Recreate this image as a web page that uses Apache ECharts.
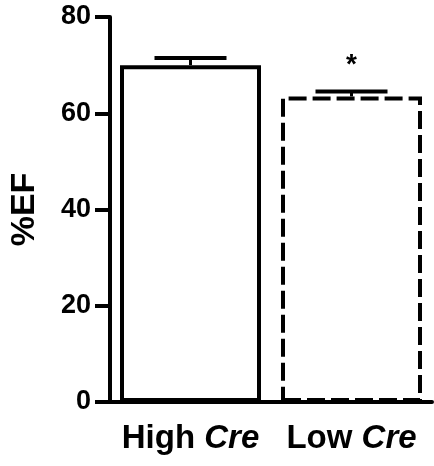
<!DOCTYPE html>
<html lang="en">
<head>
    <meta charset="UTF-8">
    <script src="https://cdn.jsdelivr.net/npm/echarts@6/dist/echarts.min.js"></script>
    <title>%EF</title>
    <style>
        html, body { margin: 0; padding: 0; background: #fff; }
        #chart { width: 434px; height: 466px; }
    </style>
</head>
<body>
<div id="chart"></div>
<script>
    // 数据
    let groups = ['High', 'Low'];
    let means = [70, 63.5];
    let errs = [1.5, 1.0];
    let marks = ['', '*'];
    let yTicks = [0, 20, 40, 60, 80];

    let font = '"Liberation Sans", Arial, Helvetica, sans-serif';

    let chart = echarts.init(document.getElementById('chart'));

    // 误差棒 + 显著性标记
    function renderErr(params, api) {
        let i = api.value(0);
        let top = api.coord([i, api.value(1) + api.value(2)]);
        let base = api.coord([i, api.value(1)]);
        let half = 36;
        let children = [
            { type: 'line', shape: { x1: top[0], y1: top[1], x2: base[0], y2: base[1] },
              style: { stroke: '#000', lineWidth: 3 } },
            { type: 'line', shape: { x1: top[0] - half, y1: top[1], x2: top[0] + half, y2: top[1] },
              style: { stroke: '#000', lineWidth: 4 } }
        ];
        if (marks[i]) {
            children.push({
                type: 'text',
                style: { text: marks[i], x: top[0], y: top[1] - 12, align: 'center', verticalAlign: 'bottom',
                         font: 'bold 28px ' + font, fill: '#000' }
            });
        }
        return { type: 'group', children: children };
    }

    chart.setOption({
        animation: false,
        grid: { left: 105, right: 2, top: 17, bottom: 64 },
        xAxis: {
            type: 'category',
            data: groups,
            axisLine: { lineStyle: { color: '#000', width: 4 } },
            axisTick: { alignWithLabel: true, length: 13, lineStyle: { color: '#000', width: 4 } },
            axisLabel: {
                margin: 20,
                formatter: v => '{n|' + v + ' }{i|Cre}',
                rich: {
                    n: { fontFamily: font, fontWeight: 'bold', fontSize: 33, color: '#000' },
                    i: { fontFamily: font, fontWeight: 'bold', fontStyle: 'italic', fontSize: 33, color: '#000' }
                }
            }
        },
        yAxis: {
            type: 'value',
            min: 0, max: 80, interval: 20,
            name: '%EF',
            nameLocation: 'middle',
            nameGap: 68,
            nameRotate: 90,
            nameTextStyle: { fontFamily: font, fontWeight: 'bold', fontSize: 34, color: '#000' },
            splitLine: { show: false },
            axisLine: { show: true, lineStyle: { color: '#000', width: 4 } },
            axisTick: { show: true, length: 15, lineStyle: { color: '#000', width: 4 } },
            axisLabel: {
                margin: 19,
                customValues: yTicks,
                fontFamily: font, fontWeight: 'bold', fontSize: 27, color: '#000'
            }
        },
        series: [
            {
                type: 'custom',
                renderItem: renderErr,
                data: groups.map((g, i) => [i, means[i], errs[i]]),
                z: 1
            },
            {
                type: 'bar',
                barWidth: 141,
                z: 2,
                data: [
                    { value: means[0], itemStyle: { color: '#fff', borderColor: '#000', borderWidth: 4 } },
                    { value: means[1], itemStyle: { color: '#fff', borderColor: '#000', borderWidth: 4, borderType: [18, 6] } }
                ]
            }
        ]
    });
</script>
</body>
</html>
